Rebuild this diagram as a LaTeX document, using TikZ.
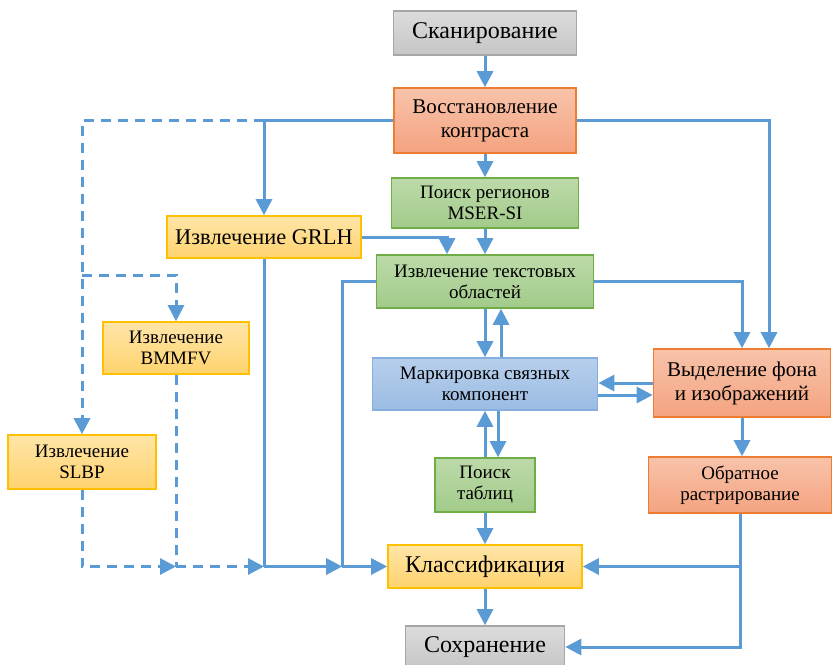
\documentclass[tikz,border=0pt]{standalone}
\usepackage{fontspec}
\setmainfont{Liberation Serif}
\usepackage{tikz}
\usetikzlibrary{arrows.meta, positioning}
\definecolor{LineBlue}{HTML}{5B9BD5}
\definecolor{GreyTop}{HTML}{DCDCDC}
\definecolor{GreyBot}{HTML}{C6C6C6}
\definecolor{GreyEdge}{HTML}{A6A6A6}
\definecolor{OrangeTop}{HTML}{F8C3AA}
\definecolor{OrangeBot}{HTML}{F4A380}
\definecolor{OrangeEdge}{HTML}{ED7D31}
\definecolor{GreenTop}{HTML}{BCDAA9}
\definecolor{GreenBot}{HTML}{A2CB8A}
\definecolor{GreenEdge}{HTML}{70AD47}
\definecolor{YellowTop}{HTML}{FFE5A8}
\definecolor{YellowBot}{HTML}{FFD36E}
\definecolor{YellowEdge}{HTML}{FFC000}
\definecolor{BlueTop}{HTML}{B7CFEC}
\definecolor{BlueBot}{HTML}{9BBCE3}
\definecolor{BlueEdge}{HTML}{86AEDF}
\tikzset{
  basebox/.style={rectangle, inner sep=0pt, align=center, text=black, line width=0.8pt},
  greybox/.style={basebox, draw=GreyEdge, top color=GreyTop, bottom color=GreyBot},
  orangebox/.style={basebox, draw=OrangeEdge, top color=OrangeTop, bottom color=OrangeBot},
  greenbox/.style={basebox, draw=GreenEdge, top color=GreenTop, bottom color=GreenBot},
  yellowbox/.style={basebox, draw=YellowEdge, top color=YellowTop, bottom color=YellowBot},
  bluebox/.style={basebox, draw=BlueEdge, top color=BlueTop, bottom color=BlueBot},
  bigtext/.style={font=\fontsize{12}{12.5}\selectfont},
  midtext/.style={font=\fontsize{10.5}{12}\selectfont},
  smalltext/.style={font=\fontsize{9.5}{10.5}\selectfont},
  link/.style={line width=1.5pt, LineBlue},
  arrow/.style={link, -{Triangle[width=8pt,length=8pt]}},
  dashedlink/.style={link, dash pattern=on 5pt off 3.5pt},
  dashedarrow/.style={arrow, dash pattern=on 5pt off 3.5pt}
}
\begin{document}
\begin{tikzpicture}[x=0.5pt, y=-0.5pt]
  \useasboundingbox (0,0) rectangle (833,664);

  % Main column
  \node[greybox, bigtext, minimum width=91.5pt, minimum height=22pt] (scan) at (485,33) {Сканирование};
  \node[orangebox, midtext, minimum width=91pt, minimum height=32.5pt] (contrast) at (485,120.5) {Восстановление\\контраста};
  \node[greenbox, smalltext, minimum width=93.5pt, minimum height=25pt] (mser) at (485,203) {Поиск регионов\\MSER-SI};
  \node[greenbox, smalltext, minimum width=108.5pt, minimum height=26.5pt] (textreg) at (485,281.5) {Извлечение текстовых\\областей};
  \node[bluebox, smalltext, minimum width=112.5pt, minimum height=26pt] (marking) at (485,384) {Маркировка связных\\компонент};
  \node[greenbox, smalltext, minimum width=50pt, minimum height=27pt] (tables) at (485,485) {Поиск\\таблиц};
  \node[yellowbox, bigtext, minimum width=97pt, minimum height=21.5pt] (classif) at (485,566.5) {Классификация};
  \node[greybox, bigtext, minimum width=79.5pt, minimum height=21pt] (save) at (485,647) {Сохранение};

  % Features
  \node[yellowbox, font=\fontsize{11.2}{12}\selectfont, minimum width=97pt, minimum height=21pt] (grlh) at (264,237) {Извлечение GRLH};
  \node[yellowbox, smalltext, minimum width=73pt, minimum height=26pt] (bmmfv) at (176,348) {Извлечение\\BMMFV};
  \node[yellowbox, smalltext, minimum width=74pt, minimum height=27pt] (slbp) at (82,462) {Извлечение\\SLBP};

  % Background branch
  \node[orangebox, midtext, minimum width=88.5pt, minimum height=34pt] (backgr) at (742,383) {Выделение фона\\и изображений};
  \node[orangebox, smalltext, minimum width=91.5pt, minimum height=28pt] (raster) at (740,485) {Обратное\\растрирование};

  \coordinate (jgrlh) at (grlh.north |- contrast.west);
  \coordinate (jleft) at (slbp.north |- contrast.west);
  \coordinate (jbm) at (82,275);
  \coordinate (jbottom) at (bmmfv.south |- classif.west);
  \coordinate (jfeat) at (grlh.south |- classif.west);
  \coordinate (jtext) at ([xshift=-22.5pt]classif.west);
  \coordinate (jraster) at (raster.south |- classif.east);

  \draw[arrow] (scan) -- (contrast);
  \draw[arrow] (contrast) -- (mser);
  \draw[arrow] (mser) -- (textreg);
  \draw[link] (contrast.west) -- (jgrlh);
  \draw[arrow] (jgrlh) -- (grlh.north);
  \draw[dashedarrow] (jgrlh) -- (jleft) -- (slbp.north);
  \draw[dashedarrow] (jbm) -| (bmmfv.north);
  \draw[arrow] (contrast.east) -| ([xshift=13.5pt]backgr.north);
  \draw[arrow] (grlh.east) -| ([xshift=-19pt]textreg.north);
  \draw[arrow] (textreg.east) -| (backgr.north);
  \draw[arrow] (textreg.south) -- (marking.north);
  \draw[arrow] ([xshift=8pt]marking.north) -- ([xshift=8pt]textreg.south);
  \draw[arrow] (backgr.west) -- (backgr.west -| marking.east);
  \draw[arrow] ([yshift=-5.5pt]marking.east) -- ([yshift=-5.5pt]marking.east -| backgr.west);
  \draw[arrow] (tables.north) -- (marking.south);
  \draw[arrow] ([xshift=6.5pt]marking.south) -- ([xshift=6.5pt]tables.north);
  \draw[arrow] (tables) -- (classif);
  \draw[arrow] (classif) -- (save);
  \draw[arrow] (backgr.south) -- (backgr.south |- raster.north);
  \draw[arrow] (raster.south) |- (save.east);
  \draw[arrow] (jraster) -- (classif.east);

  % Into classification
  \draw[dashedarrow] (slbp.south) |- (jbottom);
  \draw[dashedlink] (bmmfv.south) -- (jbottom);
  \draw[dashedarrow] (jbottom) -- (jfeat);
  \draw[link] (grlh.south) -- (jfeat);
  \draw[arrow] (jfeat) -- (jtext);
  \draw[link] (textreg.west) -| (jtext);
  \draw[arrow] (jtext) -- (classif.west);
\end{tikzpicture}
\end{document}
